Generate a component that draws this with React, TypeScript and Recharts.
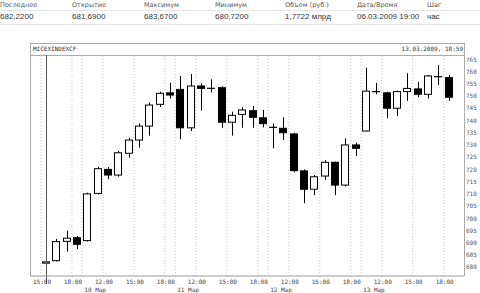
import React from "react";
import { ComposedChart, Bar, XAxis, YAxis, ReferenceLine } from "recharts";

const dayNames = ["06 Мар", "10 Мар", "11 Мар", "12 Мар", "13 Мар"];
const dayHours = [
  ["15:00", "16:00", "17:00", "18:00"],
  ["10:00", "11:00", "12:00", "13:00", "14:00", "15:00", "16:00", "17:00", "18:00"],
  ["10:00", "11:00", "12:00", "13:00", "14:00", "15:00", "16:00", "17:00", "18:00"],
  ["10:00", "11:00", "12:00", "13:00", "14:00", "15:00", "16:00", "17:00", "18:00"],
  ["10:00", "11:00", "12:00", "13:00", "14:00", "15:00", "16:00", "17:00", "18:00"],
];
const shownHours = ["12:00", "15:00", "18:00"];

const opens = [681.69, 682.7, 690.6, 692.1, 690.9, 710.2, 720.0, 717.7, 726.6, 732.0, 737.7, 746.6, 751.3, 752.7, 737.0, 754.1, 753.3, 753.4, 739.3, 742.5, 744.0, 741.1, 737.3, 736.8, 734.5, 719.4, 711.9, 717.3, 722.9, 713.6, 730.0, 735.7, 752.0, 751.3, 745.0, 751.8, 752.9, 750.7, 758.0, 757.5];
const highs = [683.67, 691.6, 695.0, 692.8, 710.5, 721.1, 721.0, 727.5, 733.0, 738.8, 747.4, 751.8, 755.4, 758.2, 759.0, 755.2, 756.8, 754.0, 743.6, 745.4, 745.9, 744.3, 738.8, 741.3, 735.0, 720.0, 717.7, 723.8, 723.2, 732.7, 731.0, 761.6, 755.4, 751.8, 752.2, 759.3, 755.8, 758.6, 762.7, 758.6];
const lows = [680.72, 682.4, 686.4, 687.5, 690.5, 709.7, 716.0, 717.0, 724.8, 728.9, 733.8, 745.5, 749.0, 732.3, 735.7, 744.0, 751.5, 737.0, 733.8, 737.0, 737.0, 737.2, 728.6, 732.0, 718.8, 706.2, 709.5, 715.7, 709.5, 713.0, 725.5, 735.5, 750.7, 740.9, 741.8, 748.0, 749.5, 749.0, 754.5, 748.0];
const closes = [682.22, 690.5, 691.9, 689.4, 710.0, 720.3, 717.7, 726.8, 732.0, 737.7, 746.3, 751.1, 750.4, 737.0, 754.1, 753.1, 753.0, 739.3, 742.1, 744.3, 741.3, 738.7, 737.1, 735.0, 719.5, 711.9, 717.0, 722.9, 713.6, 730.0, 728.6, 752.0, 751.6, 745.0, 751.8, 753.1, 750.7, 758.2, 757.8, 749.5];

const yTicks = [680, 685, 690, 695, 700, 705, 710, 715, 720, 725, 730, 735, 740, 745, 750, 755, 760, 765];

const headerLabels = ["Последнее", "Открытие", "Максимум", "Минимум", "Объем (руб.)", "Дата/Время", "Шаг"];
const headerValues = ["682,2200", "681,6900", "683,6700", "680,7200", "1,7722 млрд", "06.03.2009 19:00", "час"];
const headerX = [0, 72, 144, 215, 285, 357, 427];

const chartTitle = "MICEXINDEXCF";
const chartStamp = "13.03.2009, 18:59";

type Row = {
  key: string;
  hour: string;
  day: string;
  dayStart: boolean;
  showHour: boolean;
  open: number;
  high: number;
  low: number;
  close: number;
};

const data: Row[] = [];
{
  let i = 0;
  dayHours.forEach((hours, d) => {
    hours.forEach((h, j) => {
      data.push({
        key: d + " " + h,
        hour: h,
        day: dayNames[d],
        dayStart: j === 0 && d > 0,
        showHour: (d === 0 && (h === "15:00" || h === "18:00")) || (d > 0 && shownHours.includes(h)),
        open: opens[i],
        high: highs[i],
        low: lows[i],
        close: closes[i],
      });
      i++;
    });
  });
}

const FONT_MONO = "'DejaVu Sans Mono', monospace";

const Candle = (props: any) => {
  const { x, y, width, height, payload } = props;
  if (x == null || y == null) return null;
  const cx = x + width / 2;
  const hi = payload.high;
  const lo = payload.low;
  const k = hi === lo ? 0 : height / (hi - lo);
  const yOf = (v: number) => y + (hi - v) * k;
  const yo = yOf(payload.open);
  const yc = yOf(payload.close);
  const top = Math.min(yo, yc);
  const bot = Math.max(yo, yc);
  const up = payload.close >= payload.open;
  const wx = Math.round(cx) + 0.5;
  const bx = Math.round(cx) - 4 + 0.5;
  const bh = Math.max(bot - top, 0.01);
  return (
    <g>
      <line x1={wx} x2={wx} y1={y} y2={y + height} stroke="#000" strokeWidth={1} />
      {bh < 1 ? (
        <line x1={bx - 0.5} x2={bx + 7.5} y1={(top + bot) / 2} y2={(top + bot) / 2} stroke="#000" strokeWidth={1.2} />
      ) : (
        <rect x={bx} y={top} width={7} height={bh} fill={up ? "#fff" : "#000"} stroke="#000" strokeWidth={1} />
      )}
    </g>
  );
};

const XTick = (props: any) => {
  const { x, y, payload, index } = props;
  const row = data[index != null ? index : 0] || data.find((r) => r.key === payload.value);
  if (!row) return null;
  const off = payload && typeof payload.offset === "number" && payload.offset > 0 ? payload.offset : 5.16;
  const left = x - off;
  return (
    <g>
      {row.showHour ? (
        <text x={left + 1} y={y + 7.5} textAnchor="middle" fontFamily={FONT_MONO} fontSize={6} fill="#444">
          {row.hour}
        </text>
      ) : null}
      {row.dayStart ? (
        <text x={left + 2} y={y + 15.5} textAnchor="start" fontFamily={FONT_MONO} fontSize={6} fill="#444">
          {row.day}
        </text>
      ) : null}
    </g>
  );
};

const YTick = (props: any) => {
  const { x, y, payload } = props;
  return (
    <text x={x + 2} y={y + 2.2} textAnchor="start" fontFamily={FONT_MONO} fontSize={6} fill="#555">
      {payload.value}
    </text>
  );
};

const CursorShape = (props: any) => {
  const { x1, y1, x2, y2 } = props;
  if (x1 == null) return null;
  const xx = Math.round(x1) + 0.5;
  return <line x1={xx} x2={xx} y1={Math.min(y1, y2)} y2={Math.max(y1, y2) + 8} stroke="#555" strokeWidth={1} />;
};

export default function App() {
  return (
    <div style={{ position: "absolute", left: 0, top: 0, width: 480, height: 293, background: "#fff", overflow: "hidden" }}>
      {headerLabels.map((t, i) => (
        <div key={"l" + i} style={{ position: "absolute", left: headerX[i], top: 0, fontFamily: "'DejaVu Sans', sans-serif", fontSize: 6.5, lineHeight: "10px", color: "#555", whiteSpace: "nowrap" }}>
          {t}
        </div>
      ))}
      <div style={{ position: "absolute", left: 0, top: 10, width: 480, height: 1, background: "#e4e4e4" }} />
      {headerValues.map((t, i) => (
        <div key={"v" + i} style={{ position: "absolute", left: headerX[i], top: 11, fontFamily: "'Liberation Sans', Arial, sans-serif", fontSize: 8, lineHeight: "12px", color: "#333", whiteSpace: "nowrap" }}>
          {t}
        </div>
      ))}
      <div style={{ position: "absolute", left: 0, top: 24, width: 480, height: 1, background: "#e4e4e4" }} />

      <div style={{ position: "absolute", left: 30, top: 43, width: 433, height: 232, borderTop: "1px solid #aaa", borderLeft: "1px solid #aaa", borderRight: "1px solid #aaa" }} />
      <div style={{ position: "absolute", left: 30, top: 55, width: 434, height: 1, background: "#aaa" }} />
      <div style={{ position: "absolute", left: 33, top: 45, fontFamily: FONT_MONO, fontSize: 6, lineHeight: "8px", color: "#333", whiteSpace: "nowrap" }}>
        {chartTitle}
      </div>
      <div style={{ position: "absolute", right: 480 - 463, top: 45, fontFamily: FONT_MONO, fontSize: 6, lineHeight: "8px", color: "#333", whiteSpace: "nowrap" }}>
        {chartStamp}
      </div>

      <div style={{ position: "absolute", left: 0, top: 0 }}>
        <ComposedChart width={480} height={293} data={data} margin={{ top: 55, right: 0, bottom: 0, left: 30 }} barSize={8}>
          <XAxis
            dataKey="key"
            type="category"
            height={17}
            padding={{ left: 11, right: 10 }}
            axisLine={{ stroke: "#999" }}
            tickLine={false}
            tickSize={0}
            tickMargin={0}
            interval={0}
            tick={<XTick />}
          />
          <YAxis
            orientation="right"
            width={16}
            type="number"
            domain={[676.44, 766.76]}
            allowDataOverflow
            ticks={yTicks}
            interval={0}
            axisLine={false}
            tickLine={false}
            tickSize={0}
            tickMargin={0}
            tick={<YTick />}
          />
          {data
            .filter((r) => r.showHour || r.dayStart)
            .map((r) => (
              <ReferenceLine key={"g" + r.key} x={r.key} position="start" stroke="#c8c8c8" strokeDasharray="1 2" ifOverflow="visible" />
            ))}
          <ReferenceLine x={data[0].key} position="middle" stroke="#555" shape={<CursorShape />} ifOverflow="visible" />
          <Bar dataKey={(d: Row) => [d.low, d.high]} shape={<Candle />} isAnimationActive={false} />
        </ComposedChart>
      </div>
    </div>
  );
}
